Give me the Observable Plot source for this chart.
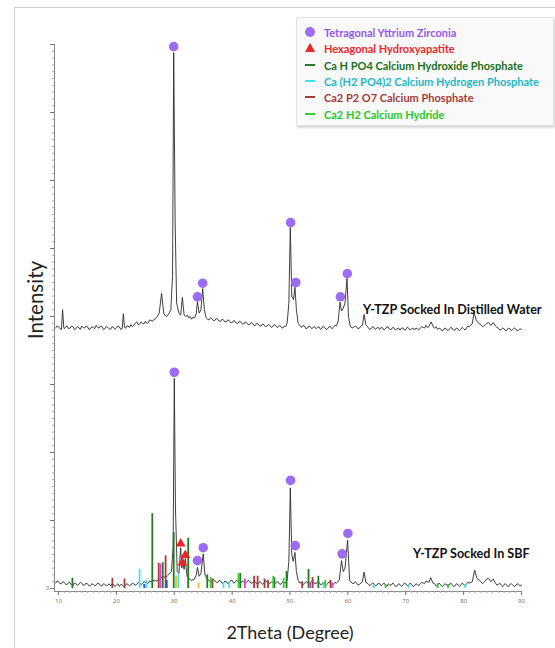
<!DOCTYPE html>
<html>
<head>
<meta charset="utf-8">
<script src="https://cdn.jsdelivr.net/npm/d3@7"></script>
<script src="https://cdn.jsdelivr.net/npm/@observablehq/plot@0.6"></script>
<style>
  body { margin: 0; background: #fff; }
  #wrap { position: relative; width: 555px; height: 648px; overflow: hidden; background: #fff; font-family: Lato, "Open Sans", sans-serif; }
  #border { position: absolute; left: 14px; top: 7px; right: 0; bottom: 0; border-left: 1px solid #cfcfcf; border-top: 1px solid #cfcfcf; }
  #chart { position: absolute; left: 0; top: 0; }
  .lbl { position: absolute; color: #222; white-space: nowrap; }
  #ylab { left: 35px; top: 300px; font-size: 20.5px; transform: translate(-50%, -50%) rotate(-90deg); }
  #xlab { left: 290px; top: 632px; font-size: 18px; transform: translate(-50%, -50%); }
  .ann { position: absolute; font-weight: bold; font-size: 12.6px; color: #111; white-space: nowrap; transform: translateY(-50%); }
  #legend { position: absolute; left: 296px; top: 17px; width: 256px; height: 107px; background: #f9f9f9; border: 1px solid #e2e2e2; box-shadow: 1px 2px 2px #d8d8d8; }
  .row { position: absolute; left: 0; height: 16px; font-size: 11px; font-weight: bold; white-space: nowrap; }
  .row span.t { position: absolute; left: 27px; top: 50%; transform: translateY(-50%); }
  .mk { position: absolute; }
</style>
</head>
<body>
<div id="wrap">
  <div id="border"></div>
  <div id="chart"></div>
  <div class="lbl" id="ylab">Intensity</div>
  <div class="lbl" id="xlab">2Theta (Degree)</div>
  <div class="ann" style="left:363px; top:309px;">Y-TZP Socked In Distilled Water</div>
  <div class="ann" style="left:413px; top:553px;">Y-TZP Socked In SBF</div>
  <div id="legend"></div>
</div>
<script>
// ---------- data ----------
// XRD scan of Y-TZP soaked in distilled water: [2theta, intensity]
const waterScan = [
  [9.5,383],[9.75,386],[10,385],[10.25,382],[10.5,381],[10.7,410],[10.9,384],[11,382],[11.25,385],[11.5,386],[11.75,382],[12,383],[12.25,386],[12.5,385],[12.75,381],[13,382],
  [13.25,385],[13.5,384],[13.75,381],[14,386],[14.25,384],[14.5,383],[14.75,386],[15,385],[15.25,381],[15.5,382],[15.75,385],[16,384],[16.25,382],[16.5,387],[16.75,384],[17,383],[17.25,386],[17.5,385],[17.75,381],[18,382],
  [18.25,385],[18.5,384],[18.75,382],[19,381],[19.25,385],[19.5,384],[19.75,381],[20,383],[20.25,386],[20.5,385],[20.75,381],[21,382],[21.2,404],[21.4,384],[21.6,383],[21.8,386],[22,386],[22.25,384],
  [22.5,388],[22.75,385],[23,387],[23.25,390],[23.5,392],[23.75,388],[24,389],[24.25,392],[24.5,390],[24.75,389],[25,393],[25.25,390],[25.5,391],[25.75,395],[26,394],[26.25,393],[26.5,396],[26.75,397],[27,399],
  [27.4,405],[27.8,434],[28.2,404],[28.6,400],[29,403],[29.4,410],[29.7,460],[29.9,788],[30.15,540],[30.4,420],
  [30.8,405],[31.1,402],[31.4,428],[31.7,402],[32,400],[32.25,402],[32.5,398],[32.75,400],[33,396],[33.25,399],[33.5,398],[33.8,404],[34.0,422],
  [34.3,405],[34.6,410],[34.9,441],[35.2,410],[35.5,398],[35.75,396],[36,395],[36.25,398],[36.5,397],[36.75,394],[37,394],[37.25,397],[37.5,396],[37.75,393],[38,393],
  [38.25,396],[38.5,395],[38.75,392],[39,392],[39.25,395],[39.5,394],[39.75,391],[40,391],[40.25,394],[40.5,393],[40.75,390],[41,390],[41.25,393],[41.5,392],[41.75,389],[42,389],[42.25,392],[42.5,391],[42.75,388],[43,388],
  [43.25,391],[43.5,390],[43.75,387],[44,387],[44.25,390],[44.5,389],[44.75,386],[45,386],[45.25,389],[45.5,388],[45.75,385],[46,386],[46.25,388],[46.5,387],[46.75,384],[47,385],[47.25,388],[47.5,387],[47.75,384],[48,385],
  [48.25,387],[48.5,384],[48.75,383],[49,386],[49.25,385],[49.5,390],[49.8,420],[50.05,531],[50.3,430],[50.6,425],[50.85,443],[51.1,410],[51.4,390],
  [51.8,386],[52,384],[52.25,387],[52.5,386],[52.75,382],[53,383],[53.25,386],[53.5,385],[53.75,382],[54,384],[54.25,385],[54.5,382],[54.75,384],[55,385],[55.25,381],[55.5,383],[55.75,386],[56,384],
  [56.25,381],[56.5,382],[56.75,385],[57,385],[57.25,382],[57.5,384],[57.75,387],[58,386],[58.3,392],[58.65,421],[58.9,408],[59.2,412],[59.5,420],[59.85,456],
  [60.1,400],[60.4,386],[60.7,383],[61,384],[61.25,386],[61.5,385],[61.75,382],[62,383],[62.25,386],[62.5,387],[62.8,403],[63.1,388],[63.5,384],[63.75,381],[64,382],
  [64.25,385],[64.5,384],[64.75,381],[65,383],[65.25,384],[65.5,381],[65.75,384],[66,383],[66.25,380],[66.5,382],[66.75,385],[67,384],[67.25,381],[67.5,381],[67.75,384],[68,383],[68.25,380],[68.5,382],[68.75,383],[69,380],
  [69.25,383],[69.5,383],[69.75,380],[70,381],[70.25,384],[70.5,383],[70.75,380],[71,382],[71.25,383],[71.5,380],[71.75,383],[72,382],[72.25,380],[72.5,383],[72.75,385],[73,384],[73.25,383],[73.5,387],[73.75,384],[74,385],
  [74.4,392],[74.8,384],[75,383],[75.25,385],[75.5,381],[75.75,383],[76,382],[76.25,379],[76.5,380],[76.75,383],[77,382],[77.25,379],[77.5,381],[77.75,384],[78,383],[78.25,380],[78.5,380],[78.75,383],
  [79,382],[79.25,379],[79.5,381],[79.75,384],[80,382],[80.25,380],[80.5,383],[80.75,386],[81,385],[81.25,387],[81.5,390],[81.8,406],[82.2,394],[82.6,390],[83,388],
  [83.25,385],[83.5,386],[83.75,388],[84,390],[84.3,391],[84.7,387],[85.1,391],[85.5,386],[85.75,384],[86,383],[86.25,380],[86.5,381],[86.75,383],[87,382],[87.25,379],[87.5,380],
  [87.75,383],[88,382],[88.25,379],[88.5,381],[88.75,383],[89,382],[89.25,379],[89.5,380],[89.75,382],[90,381]
];
// XRD scan of Y-TZP soaked in SBF: [2theta, intensity]
const sbfScan = [
  [9.5,8],[9.75,11],[10,10],[10.25,7],[10.5,7],[10.75,10],[11,9],[11.25,6],[11.5,6],[11.75,9],[12,8],[12.25,5],[12.5,5],[12.75,8],[13,7],[13.25,5],[13.5,6],[13.75,9],[14,8],
  [14.25,5],[14.5,5],[14.75,8],[15,7],[15.25,4],[15.5,4],[15.75,7],[16,6],[16.25,4],[16.5,5],[16.75,8],[17,7],[17.25,4],[17.5,4],[17.75,7],[18,6],[18.25,4],[18.5,5],[18.75,7],[19,4],
  [19.25,7],[19.5,6],[19.75,3],[20,5],[20.25,7],[20.5,3],[20.75,6],[21,5],[21.25,3],[21.5,4],[21.75,7],[22,6],[22.25,4],[22.5,5],[22.75,8],[23,7],[23.25,5],[23.5,6],[23.75,9],[24,8],
  [24.25,6],[24.5,7],[24.75,10],[25,9],[25.25,7],[25.5,8],[25.75,11],[26,10],[26.5,12],[27,11],[27.5,14],[28,18],[28.5,16],[29,20],
  [29.5,25],[29.8,60],[30.0,309],[30.2,120],[30.5,25],[30.8,22],[31.1,60],[31.3,30],[31.5,38],[31.7,28],
  [31.9,44],[32.2,18],[32.6,14],[33,12],[33.5,14],[33.8,20],[34.0,31],[34.3,18],[34.6,22],[35.0,51],
  [35.3,20],[35.7,14],[36,12],[36.25,9],[36.5,10],[36.75,13],[37,12],[37.25,9],[37.5,9],[37.75,12],[38,11],[38.25,8],[38.5,8],[38.75,11],[39,10],[39.25,7],[39.5,9],
  [39.75,12],[40,12],[40.25,8],[40.5,9],[40.75,12],[41,11],[41.25,8],[41.5,8],[41.75,11],[42,10],[42.25,7],[42.5,9],[42.75,12],[43,11],[43.25,8],[43.5,8],[43.75,11],[44,10],[44.25,7],[44.5,7],
  [44.75,10],[45,9],[45.25,6],[45.5,8],[45.75,11],[46,10],[46.25,7],[46.5,7],[46.75,10],[47,9],[47.25,6],[47.5,8],[47.75,10],[48,9],[48.25,6],[48.5,7],[48.75,10],[49,9],[49.25,8],[49.5,12],
  [49.8,40],[50.05,148],[50.3,50],[50.55,40],[50.85,53],[51.1,25],[51.4,12],[51.7,8],[52,9],[52.25,6],[52.5,7],[52.75,10],[53,9],
  [53.25,6],[53.5,8],[53.75,11],[54,10],[54.25,7],[54.5,7],[54.75,10],[55,9],[55.25,6],[55.5,6],[55.75,9],[56,8],[56.25,5],[56.5,7],[56.75,10],[57,9],[57.25,6],[57.5,6],[57.75,9],[58,8],
  [58.5,12],[58.9,41],[59.2,25],[59.5,30],[59.95,71],[60.3,12],[60.7,8],[61,7],[61.25,10],[61.5,8],[61.75,5],[62,6],
  [62.5,10],[62.8,24],[63.1,9],[63.5,7],[63.75,4],[64,6],[64.25,8],[64.5,7],[64.75,4],[65,5],[65.25,8],[65.5,7],[65.75,4],[66,6],[66.25,8],[66.5,5],
  [66.75,3],[67,7],[67.25,5],[67.5,5],[67.75,8],[68,6],[68.25,3],[68.5,4],[68.75,7],[69,6],[69.25,3],[69.5,5],[69.75,8],[70,7],[70.25,4],[70.5,5],[70.75,8],[71,6],[71.25,3],[71.5,4],
  [71.75,7],[72,6],[72.25,4],[72.5,7],[72.75,9],[73,8],[73.25,7],[73.5,11],[74,9],[74.3,16],[74.7,8],[75,7],[75.25,4],[75.5,5],[75.75,8],[76,6],
  [76.25,3],[76.5,4],[76.75,7],[77,6],[77.25,3],[77.5,5],[77.75,8],[78,6],[78.25,3],[78.5,4],[78.75,7],[79,6],[79.25,3],[79.5,5],[79.75,8],[80,6],[80.25,4],[80.5,7],[80.75,9],[81,8],
  [81.5,10],[81.9,27],[82.3,15],[82.7,12],[83,10],[83.25,7],[83.5,9],[84,14],[84.3,15],[84.7,10],[85.1,14],
  [85.5,8],[85.75,5],[86,6],[86.25,8],[86.5,5],[86.75,3],[87,6],[87.25,7],[87.5,4],[87.75,3],[88,6],[88.25,7],[88.5,5],[88.75,3],[89,4],[89.25,7],[89.5,6],[89.75,4],[90,5]
];
// Reference pattern sticks on the SBF scan: [2theta, height, phase]
const refSticks = [
  [12.4,15,"CaHPO4"],[26.2,110,"CaHPO4"],[28.0,38,"CaHPO4"],[29.9,82,"CaHPO4"],[32.4,74,"CaHPO4"],
  [35.7,20,"CaHPO4"],[41.4,22,"CaHPO4"],[47.3,16,"CaHPO4"],[49.4,25,"CaHPO4"],[53.2,28,"CaHPO4"],[54.9,18,"CaHPO4"],
  [19.3,15,"Ca2P2O7"],[21.4,14,"Ca2P2O7"],[27.3,37,"Ca2P2O7"],[28.5,48,"Ca2P2O7"],[36.6,14,"Ca2P2O7"],
  [43.8,18,"Ca2P2O7"],[44.4,18,"Ca2P2O7"],[45.6,14,"Ca2P2O7"],[46.2,12,"Ca2P2O7"],[52.1,10,"Ca2P2O7"],
  [53.9,16,"Ca2P2O7"],[57.0,12,"Ca2P2O7"],
  [24.0,28,"CaH2PO42"],[25.2,12,"CaH2PO42"],[30.7,20,"CaH2PO42"],[38.5,9,"CaH2PO42"],[39.5,10,"CaH2PO42"],
  [55.8,8,"CaH2PO42"],[64.5,6,"CaH2PO42"],[70.5,6,"CaH2PO42"],[80.2,6,"CaH2PO42"],
  [36.3,16,"Ca2H2"],[41.1,22,"Ca2H2"],[47.1,18,"Ca2H2"],[48.9,15,"Ca2H2"],[56.1,12,"Ca2H2"],
  [66.5,6,"Ca2H2"],[75.5,7,"Ca2H2"],[77.3,6,"Ca2H2"],
  [27.6,36,"other1"],[42.2,14,"other1"],[53.5,9,"other1"],[57.3,8,"other1"],
  [30.3,18,"other2"],[34.2,8,"other2"],[28.7,12,"other3"],[24.8,6,"other3"]
];
// Peak identification markers
const zirconiaWater = [[29.9,797],[34.0,429],[34.9,449],[50.1,538],[51.0,450],[58.7,429],[59.9,463]];
const zirconiaSbf = [[30.0,318],[34.0,41],[35.0,60],[50.1,159],[50.9,63],[59.0,51],[60.0,81]];
const hydroxyapatite = [[31.1,66],[31.9,49],[31.4,38]];
// Axis ticks
const xMajorTicks = [10,20,30,40,50,60,70,80,90];
const yMajorTicks = [0,100,200,300,400,500,600,700,800];
const xDomain = [9.3, 90];
const yDomain = [-4.4, 800];
// Legend entries
const legendItems = [
  {label: "Tetragonal Yttrium Zirconia", kind: "dot"},
  {label: "Hexagonal Hydroxyapatite", kind: "tri"},
  {label: "Ca H PO4 Calcium Hydroxide Phosphate", kind: "CaHPO4"},
  {label: "Ca (H2 PO4)2 Calcium Hydrogen Phosphate", kind: "CaH2PO42"},
  {label: "Ca2 P2 O7 Calcium Phosphate", kind: "Ca2P2O7"},
  {label: "Ca2 H2 Calcium Hydride", kind: "Ca2H2"}
];

// ---------- styles ----------
const phaseColor = {
  CaHPO4: "#1f7d1f", CaH2PO42: "#3fe3ef", Ca2P2O7: "#a63b3b", Ca2H2: "#2ed12e",
  other1: "#e040d8", other2: "#e6c21a", other3: "#2d4fe0"
};
const textColor = {
  dot: "#9656ee", tri: "#ea2a2a", CaHPO4: "#1b6f1b", CaH2PO42: "#1fb7c4", Ca2P2O7: "#a63b3b", Ca2H2: "#27c827"
};
const purple = "#9c6cf2";
const axisGray = "#8a8a8a";

const chart = Plot.plot({
  width: 555, height: 648,
  marginLeft: 54, marginRight: 34, marginTop: 44, marginBottom: 57,
  x: {domain: xDomain},
  y: {domain: yDomain},
  color: {type: "identity"},
  style: {background: "transparent", overflow: "visible"},
  marks: [
    Plot.ruleX([xDomain[0]], {stroke: axisGray, strokeWidth: 1}),
    Plot.ruleY([yDomain[0]], {stroke: axisGray, strokeWidth: 1}),
    Plot.axisY({ticks: d3.range(0, 801, 10), tickSize: 2, tickFormat: () => "", color: "#aaa"}),
    Plot.axisY({ticks: yMajorTicks, tickSize: 4, tickPadding: 1, tickFormat: d => d === 0 ? "0" : "", fontSize: 6, color: "#777"}),
    Plot.axisX({ticks: d3.range(10, 91, 1), tickSize: 2, tickFormat: () => "", color: "#aaa"}),
    Plot.axisX({ticks: xMajorTicks, tickSize: 4, tickPadding: 3, fontSize: 6, color: "#777"}),
    Plot.line(waterScan, {x: d => d[0], y: d => d[1], stroke: "#2a2a2a", strokeWidth: 0.9}),
    Plot.line(sbfScan, {x: d => d[0], y: d => d[1], stroke: "#2a2a2a", strokeWidth: 0.9}),
    Plot.ruleX(refSticks, {x: d => d[0], y1: 0, y2: d => d[1], stroke: d => phaseColor[d[2]], strokeWidth: 1.8}),
    Plot.dot(zirconiaWater, {x: d => d[0], y: d => d[1], r: 4.8, fill: purple}),
    Plot.dot(zirconiaSbf, {x: d => d[0], y: d => d[1], r: 4.8, fill: purple}),
    Plot.dot(hydroxyapatite, {x: d => d[0], y: d => d[1], r: 3.6, symbol: "triangle", fill: "#ee2222"})
  ]
});
document.getElementById("chart").appendChild(chart);

// legend
const leg = document.getElementById("legend");
legendItems.forEach((it, i) => {
  const row = document.createElement("div");
  row.className = "row";
  row.style.top = (6 + i * 16.3) + "px";
  row.style.width = "100%";
  const mk = document.createElement("div");
  mk.className = "mk";
  if (it.kind === "dot") {
    Object.assign(mk.style, {left: "8px", top: "3px", width: "10px", height: "10px", borderRadius: "50%", background: purple});
  } else if (it.kind === "tri") {
    Object.assign(mk.style, {left: "8px", top: "3px", width: "0", height: "0", borderLeft: "5px solid transparent", borderRight: "5px solid transparent", borderBottom: "9px solid #ee2222"});
  } else {
    Object.assign(mk.style, {left: "8px", top: "7px", width: "10px", height: "2px", background: phaseColor[it.kind]});
  }
  const t = document.createElement("span");
  t.className = "t";
  t.textContent = it.label;
  t.style.color = textColor[it.kind];
  row.appendChild(mk);
  row.appendChild(t);
  leg.appendChild(row);
});
</script>
</body>
</html>
